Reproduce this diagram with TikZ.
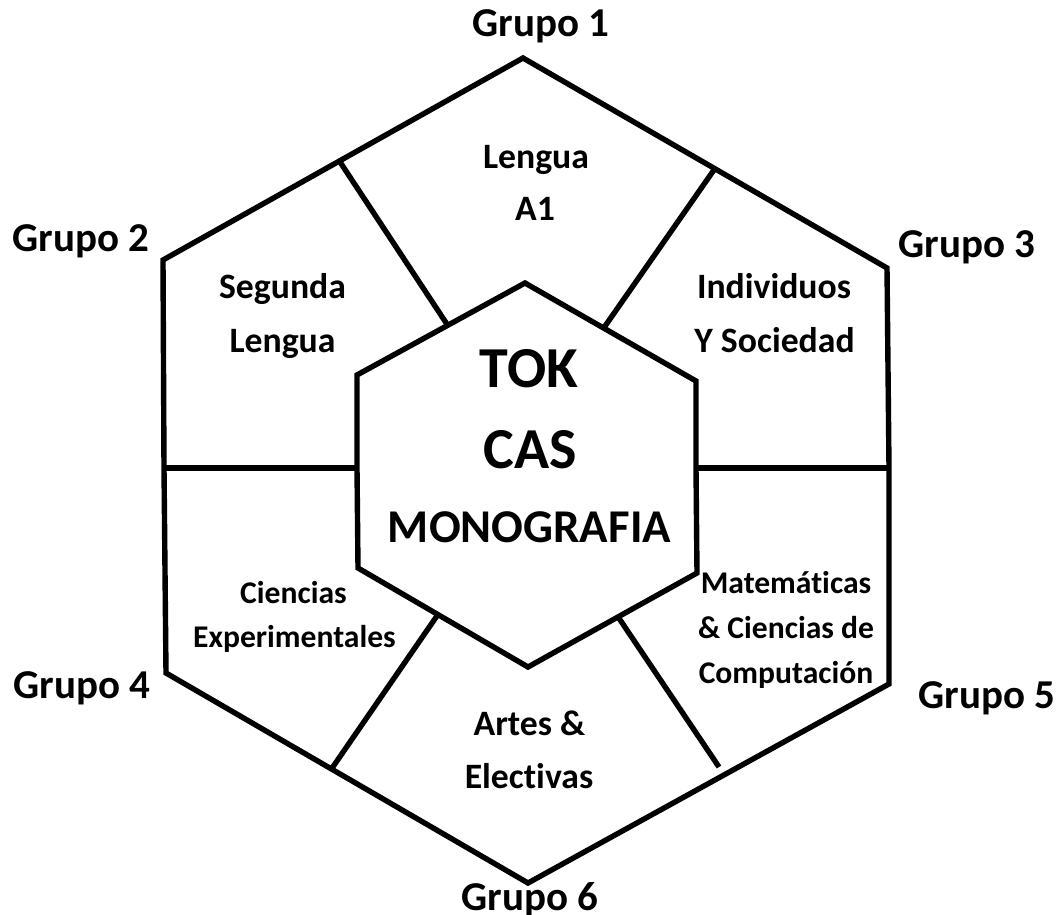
\documentclass[tikz,border=0pt]{standalone}
\usepackage{fontspec}
\setmainfont{Carlito}[Ligatures=NoCommon]
\usetikzlibrary{calc}
\begin{document}
\begin{tikzpicture}[x=1pt,y=-1pt,
  edge/.style={line width=5.4pt,line join=miter,line cap=butt},
  grp/.style={font=\fontsize{41}{48}\selectfont\bfseries,anchor=base,inner sep=0pt},
  lbl/.style={font=\fontsize{35.7}{42}\selectfont\bfseries,anchor=base,inner sep=0pt},
  sml/.style={font=\fontsize{31.6}{37}\selectfont\bfseries,anchor=base,inner sep=0pt},
  big/.style={font=\fontsize{58}{66}\selectfont\bfseries,anchor=base,inner sep=0pt},
  mono/.style={font=\fontsize{47}{54}\selectfont\bfseries,anchor=base,inner sep=0pt}]
\fill[white] (0,0) rectangle (1063,915);
\useasboundingbox (0,0) rectangle (1063,915);
% outer hexagon
\coordinate (OT) at (523,58);
\coordinate (OUR) at (887,268);
\coordinate (OR) at (889,468);
\coordinate (OLR) at (889,684);
\coordinate (OB) at (528,883);
\coordinate (OLL) at (166,673);
\coordinate (OL) at (164,468);
\coordinate (OUL) at (163,260);
% inner hexagon
\coordinate (IT) at (525,283);
\coordinate (IUR) at (696,381);
\coordinate (IR) at (696,468);
\coordinate (ILR) at (697,573);
\coordinate (IB) at (528,667);
\coordinate (ILL) at (358,568);
\coordinate (IL) at (357,468);
\coordinate (IUL) at (357,375);
\draw[edge] (OT) -- (OUR) -- (OR) -- (OLR) -- (OB) -- (OLL) -- (OL) -- (OUL) -- cycle;
\draw[edge] (IT) -- (IUR) -- (IR) -- (ILR) -- (IB) -- (ILL) -- (IL) -- (IUL) -- cycle;
% radial dividers
\coordinate (a1) at ($(OUL)!0.49!(OT)$);
\coordinate (a2) at ($(IUL)!0.54!(IT)$);
\coordinate (b1) at ($(OT)!0.527!(OUR)$);
\coordinate (b2) at ($(IT)!0.46!(IUR)$);
\coordinate (c1) at ($(ILL)!0.47!(IB)$);
\coordinate (c2) at ($(OLL)!0.457!(OB)$);
\coordinate (d1) at ($(IB)!0.533!(ILR)$);
\coordinate (d2) at (719,767);
\coordinate (rend) at (891,468);
\draw[edge] (a1) -- (a2);
\draw[edge] (b1) -- (b2);
\draw[edge] (OL) -- (IL);
\draw[edge] (IR) -- (rend);
\draw[edge] (c1) -- (c2);
\draw[edge] (d1) -- (d2);
% group labels
\node[grp] (g1) at (541,37) {Grupo 1};
\node[grp] (g2) at (81,251) {Grupo 2};
\node[grp] (g3) at (967,257) {Grupo 3};
\node[grp] (g4) at (82,698) {Grupo 4};
\node[grp] (g5) at (987,708) {Grupo 5};
\node[grp] (g6) at (530,910) {Grupo 6};
% sector labels
\node[lbl] (s1a) at (536,168) {Lengua};
\node[lbl] (s1b) at (535,220) {A1};
\node[lbl] (s2a) at (282.5,298) {Segunda};
\node[lbl] (s2b) at (282.5,352) {Lengua};
\node[lbl] (s3a) at (774,298) {Individuos};
\node[lbl] (s3b) at (774.5,352) {Y Sociedad};
\node[sml] (s4a) at (293.5,603) {Ciencias};
\node[sml] (s4b) at (294.5,647) {Experimentales};
\node[sml] (s5a) at (786,593) {Matemáticas};
\node[sml] (s5b) at (786,638) {\& Ciencias de};
\node[sml] (s5c) at (786,683) {Computación};
\node[lbl] (s6a) at (529.5,735) {Artes \&};
\node[lbl] (s6b) at (529,788) {Electivas};
% centre
\node[big] (tok) at (529,387) {TOK};
\node[big] (cas) at (530,468) {CAS};
\node[mono] (mon) at (529.5,542) {MONOGRAFIA};
\end{tikzpicture}
\end{document}
